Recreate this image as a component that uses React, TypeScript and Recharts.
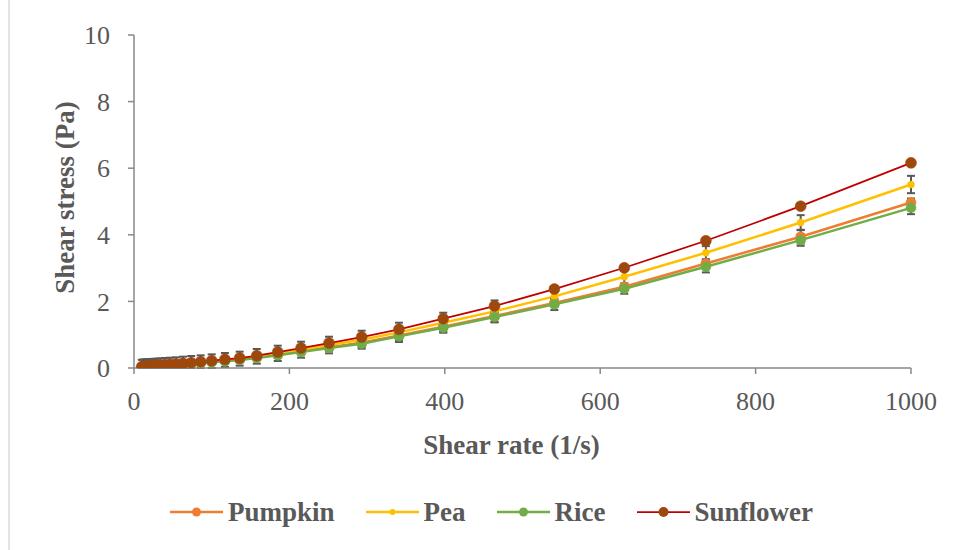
import { ErrorBar, Legend, Line, LineChart, XAxis, YAxis } from "recharts";

const shearRate = [
    10, 11.7, 13.6, 15.8, 18.5, 21.5, 25.1, 29.3, 34.1, 39.8, 46.4, 54.1, 63.1, 73.6, 85.8, 100,
    117, 136, 158, 185, 215, 251, 293, 341, 398, 464, 541, 631, 736, 858, 1000,
];

const pumpkin = [
    0.03, 0.035, 0.04, 0.04, 0.045, 0.05, 0.06, 0.06, 0.07, 0.08, 0.09, 0.1, 0.11, 0.13, 0.15, 0.18,
    0.21, 0.25, 0.31, 0.4, 0.5, 0.62, 0.76, 0.98, 1.24, 1.56, 1.95, 2.44, 3.14, 3.94, 4.97,
];
const pea = [
    0.035, 0.04, 0.045, 0.05, 0.055, 0.06, 0.065, 0.07, 0.08, 0.09, 0.1, 0.11, 0.13, 0.15, 0.17, 0.2,
    0.24, 0.28, 0.35, 0.44, 0.55, 0.69, 0.85, 1.07, 1.36, 1.7, 2.15, 2.74, 3.46, 4.37, 5.51,
];
const rice = [
    0.03, 0.035, 0.04, 0.04, 0.045, 0.05, 0.055, 0.06, 0.07, 0.08, 0.09, 0.1, 0.11, 0.13, 0.15, 0.17,
    0.2, 0.24, 0.3, 0.38, 0.48, 0.6, 0.73, 0.95, 1.21, 1.53, 1.91, 2.38, 3.04, 3.84, 4.81,
];
const sunflower = [
    0.04, 0.045, 0.05, 0.055, 0.06, 0.065, 0.07, 0.08, 0.09, 0.1, 0.11, 0.12, 0.14, 0.16, 0.19, 0.22,
    0.26, 0.3, 0.37, 0.48, 0.6, 0.75, 0.93, 1.16, 1.48, 1.86, 2.37, 3.01, 3.82, 4.86, 6.16,
];

// standard deviations (error bars)
const pumpkinErr = [
    0.02, 0.02, 0.02, 0.02, 0.02, 0.02, 0.02, 0.03, 0.03, 0.03, 0.03, 0.03, 0.03, 0.04, 0.04, 0.04,
    0.04, 0.05, 0.05, 0.05, 0.06, 0.06, 0.07, 0.08, 0.08, 0.09, 0.1, 0.1, 0.12, 0.2, 0.12,
];
const peaErr = [
    0.21, 0.21, 0.21, 0.21, 0.21, 0.21, 0.21, 0.21, 0.21, 0.21, 0.21, 0.21, 0.21, 0.21, 0.21, 0.21,
    0.21, 0.21, 0.22, 0.23, 0.24, 0.25, 0.27, 0.29, 0.3, 0.33, 0.3, 0.25, 0.2, 0.22, 0.26,
];
const riceErr = [
    0.02, 0.02, 0.02, 0.02, 0.02, 0.02, 0.02, 0.03, 0.03, 0.03, 0.03, 0.03, 0.04, 0.04, 0.04, 0.05,
    0.05, 0.06, 0.06, 0.07, 0.08, 0.09, 0.1, 0.12, 0.13, 0.15, 0.17, 0.15, 0.17, 0.17, 0.19,
];
const sunflowerErr = [
    0.02, 0.02, 0.02, 0.02, 0.02, 0.02, 0.02, 0.02, 0.02, 0.02, 0.02, 0.02, 0.02, 0.02, 0.02, 0.03,
    0.03, 0.03, 0.03, 0.03, 0.03, 0.03, 0.04, 0.04, 0.04, 0.04, 0.05, 0.05, 0.05, 0.05, 0.05,
];

const xTicks = [0, 200, 400, 600, 800, 1000];
const yTicks = [0, 2, 4, 6, 8, 10];

// error bars are cut at the x axis, like the plot area clips them
const err = (v: number, e: number) => [Math.min(v, e), e];

const data = shearRate.map((rate, i) => ({
    rate,
    pumpkin: pumpkin[i],
    pumpkinErr: err(pumpkin[i], pumpkinErr[i]),
    pea: pea[i],
    peaErr: err(pea[i], peaErr[i]),
    rice: rice[i],
    riceErr: err(rice[i], riceErr[i]),
    sunflower: sunflower[i],
    sunflowerErr: err(sunflower[i], sunflowerErr[i]),
}));

const FONT = '"Liberation Serif", "Times New Roman", serif';
const TEXT = "#595959";
const AXIS = "#898989";
const ERR = "#595959";

const SERIES = [
    { key: "pumpkin", name: "Pumpkin", line: "#ED7D31", dot: "#ED7D31", width: 2.5, r: 5 },
    { key: "pea", name: "Pea", line: "#FFC000", dot: "#FFC000", width: 2.5, r: 3.5 },
    { key: "rice", name: "Rice", line: "#70AD47", dot: "#70AD47", width: 2.5, r: 5 },
    { key: "sunflower", name: "Sunflower", line: "#C00000", dot: "#9E480E", width: 1.75, r: 5.5 },
];

const renderLegend = () => (
    <div
        style={{
            display: "flex",
            justifyContent: "center",
            alignItems: "center",
            height: 30,
            paddingLeft: 8,
        }}
    >
        {SERIES.map((s, i) => (
            <div
                key={s.key}
                style={{ display: "flex", alignItems: "center", marginLeft: i === 0 ? 0 : 31 }}
            >
                <svg width={53} height={14}>
                    <line x1={0} y1={7} x2={53} y2={7} stroke={s.line} strokeWidth={s.width} />
                    <circle cx={26.5} cy={7} r={s.r - 0.5} fill={s.dot} />
                </svg>
                <span
                    style={{
                        marginLeft: 5,
                        fontFamily: FONT,
                        fontWeight: 700,
                        fontSize: 27,
                        color: TEXT,
                        lineHeight: "30px",
                    }}
                >
                    {s.name}
                </span>
            </div>
        ))}
    </div>
);

export default function App() {
    return (
        <div
            style={{
                position: "absolute",
                left: 0,
                top: 0,
                width: 961,
                height: 550,
                background: "#fff",
            }}
        >
            <div
                style={{
                    position: "absolute",
                    left: 8,
                    top: 0,
                    width: 0,
                    height: 550,
                    borderLeft: "2px solid #e3e3e3",
                }}
            />
            <LineChart
                width={961}
                height={550}
                data={data}
                margin={{ top: 35, right: 50, left: 64, bottom: 23 }}
            >
                <XAxis
                    type="number"
                    dataKey="rate"
                    domain={[0, 1000]}
                    ticks={xTicks}
                    height={129}
                    tickSize={6}
                    tickMargin={17.5}
                    axisLine={{ stroke: AXIS, strokeWidth: 1.5 }}
                    tickLine={{ stroke: AXIS, strokeWidth: 1.5 }}
                    tick={{ fill: TEXT, fontSize: 26, fontFamily: FONT }}
                    label={(props: any) => {
                        const vb = props.viewBox;
                        return (
                            <text
                                x={vb.x + vb.width / 2 - 11}
                                y={454}
                                textAnchor="middle"
                                fill={TEXT}
                                fontFamily={FONT}
                                fontWeight={700}
                                fontSize={27}
                            >
                                Shear rate (1/s)
                            </text>
                        );
                    }}
                />
                <YAxis
                    type="number"
                    domain={[0, 10]}
                    allowDataOverflow
                    ticks={yTicks}
                    width={70}
                    tickSize={6}
                    tickMargin={18}
                    axisLine={{ stroke: AXIS, strokeWidth: 1.5 }}
                    tickLine={{ stroke: AXIS, strokeWidth: 1.5 }}
                    tick={{ fill: TEXT, fontSize: 26, fontFamily: FONT }}
                    label={(props: any) => {
                        const vb = props.viewBox;
                        const cy = vb.y + vb.height / 2 - 4;
                        return (
                            <text
                                x={74}
                                y={cy}
                                transform={`rotate(-90, 74, ${cy})`}
                                textAnchor="middle"
                                fill={TEXT}
                                fontFamily={FONT}
                                fontWeight={700}
                                fontSize={27}
                            >
                                Shear stress (Pa)
                            </text>
                        );
                    }}
                />
                <Legend verticalAlign="bottom" content={renderLegend} />
                {SERIES.map((s) => (
                    <Line
                        key={s.key}
                        type="linear"
                        dataKey={s.key}
                        name={s.name}
                        stroke={s.line}
                        strokeWidth={s.width}
                        dot={{ r: s.r, fill: s.dot, stroke: s.dot, strokeWidth: 0.5 }}
                        activeDot={false}
                        isAnimationActive={false}
                    >
                        <ErrorBar
                            dataKey={`${s.key}Err`}
                            direction="y"
                            width={4}
                            stroke={ERR}
                            strokeWidth={2}
                            isAnimationActive={false}
                        />
                    </Line>
                ))}
            </LineChart>
        </div>
    );
}
